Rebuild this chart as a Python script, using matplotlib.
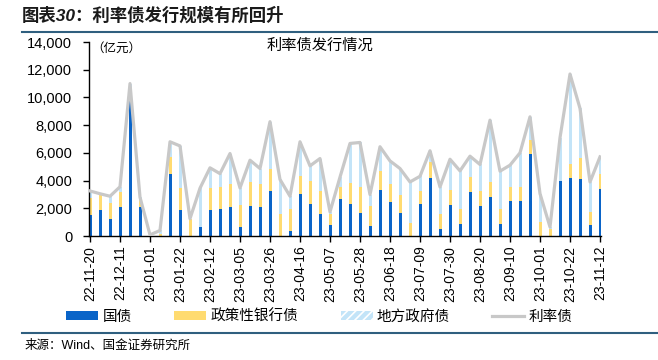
import matplotlib
matplotlib.use("Agg")
import matplotlib.pyplot as plt
from matplotlib.patches import Patch
from matplotlib.lines import Line2D
from matplotlib.ticker import FuncFormatter
import numpy as np

plt.rcParams['font.family'] = ['Liberation Sans', 'Noto Sans CJK SC']
plt.rcParams['hatch.color'] = 'white'
plt.rcParams['hatch.linewidth'] = 1.2

# 每周发行规模（亿元），22-11-20 至 23-11-12
guozhai = [1500, 1850, 1250, 2100, 9800, 2100, 0, 0, 4450, 1850,
           0, 650, 1850, 1930, 2070, 650, 2170, 2100, 3250, 0,
           340, 3010, 2290, 1590, 770, 2660, 2340, 1660, 700, 3350,
           2460, 1660, 0, 2340, 4190, 480, 2220, 890, 3180, 2150,
           2820, 890, 2530, 2510, 5900, 0, 0, 3990, 4170, 4100,
           770, 3420]
zhengce = [1250, 1100, 1100, 1100, 200, 500, 30, 150, 1250, 1620,
           1250, 0, 1620, 1610, 1660, 1570, 1730, 1640, 1550, 1600,
           1640, 1330, 1660, 1640, 850, 850, 1490, 1880, 1470, 1330,
           1320, 1280, 940, 890, 1160, 1130, 1130, 1090, 1090, 1080,
           1080, 1090, 1010, 1030, 1060, 1010, 530, 0, 1060, 1560,
           960, 1090]
difang = [500, 100, 520, 350, 1000, 200, 50, 250, 1100, 3030,
          0, 2800, 1450, 960, 2220, 1250, 1570, 1130, 3450, 2480,
          890, 2460, 1110, 2360, 120, 740, 2850, 3210, 820, 1760,
          1640, 1930, 2960, 1080, 800, 1930, 2190, 2720, 1490, 1930,
          4460, 2700, 1570, 2460, 1640, 2050, 120, 3100, 6460, 3550,
          2170, 1200]

tick_labels = ['22-11-20', '22-12-11', '23-01-01', '23-01-22', '23-02-12',
               '23-03-05', '23-03-26', '23-04-16', '23-05-07', '23-05-28',
               '23-06-18', '23-07-09', '23-07-30', '23-08-20', '23-09-10',
               '23-10-01', '23-10-22', '23-11-12']

c_guo = '#0A64C8'
c_zheng = '#FFDB70'
c_di = '#C3E4F8'
c_line = '#C8C8C8'

g = np.array(guozhai)
z = np.array(zhengce)
d = np.array(difang)
lilv = g + z + d
x = np.arange(len(g))

fig = plt.figure(figsize=(6.58, 3.6), dpi=100)
ax = fig.add_axes([89 / 658, 1 - 236 / 360, (601 - 89) / 658, (236 - 42) / 360])

ax.bar(x, g, width=0.3, color=c_guo, linewidth=0)
ax.bar(x, z, width=0.3, bottom=g, color=c_zheng, linewidth=0)
ax.bar(x, d, width=0.3, bottom=g + z, color=c_di, linewidth=0)
ax.plot(x, lilv, color=c_line, lw=2.3, zorder=3)

ax.set_xlim(-0.1, 51.1)
ax.set_ylim(0, 14000)
ax.set_yticks(range(0, 14001, 2000))
ax.yaxis.set_major_formatter(FuncFormatter(lambda v, p: f'{int(v):,}'))
ax.set_xticks(x[::3])
ax.set_xticklabels(tick_labels, rotation=90)
for s in ['top', 'right']:
    ax.spines[s].set_visible(False)
for s in ['left', 'bottom']:
    ax.spines[s].set_linewidth(1.0)
ax.tick_params(axis='y', direction='out', length=4, width=1, labelsize=10.5, pad=8)
ax.tick_params(axis='x', direction='out', length=4, width=1, labelsize=10, pad=3)

ax.text(91 / 658, 1 - 48 / 360, '（亿元）', transform=fig.transFigure,
        fontsize=9, ha='left', va='center', family=['Noto Sans CJK SC', 'DejaVu Sans'])
ax.text(320 / 658, 1 - 45 / 360, '利率债发行情况', transform=fig.transFigure,
        fontsize=11, ha='center', va='center', family=['Noto Sans CJK SC', 'DejaVu Sans'])

fig.text(22 / 658, 1 - 15 / 360, '图表30：利率债发行规模有所回升', fontsize=12.5,
         weight='bold', style='italic', ha='left', va='center', color='#1a1a1a')
fig.add_artist(Line2D([22 / 658, 1], [1 - 32 / 360] * 2, color='#2F5F7F', lw=1.5))
fig.add_artist(Line2D([22 / 658, 1], [1 - 333 / 360] * 2, color='#2F5F7F', lw=1.5))

handles = [Patch(facecolor=c_guo, edgecolor='none'),
           Patch(facecolor=c_zheng, edgecolor='none'),
           Patch(facecolor=c_di, edgecolor='white', linewidth=0, hatch='////'),
           Line2D([0], [0], color=c_line, lw=2.3)]
labels = ['国债', '政策性银行债', '地方政府债', '利率债']
fig.legend(handles, labels, loc='center left', bbox_to_anchor=(66 / 658, 1 - 317 / 360),
           ncol=4, frameon=False, handlelength=2.2, handleheight=0.55, handletextpad=0.3,
           columnspacing=2.9, fontsize=10.5, borderaxespad=0, borderpad=0)

fig.text(25 / 658, 1 - 346 / 360, '来源：Wind、国金证券研究所', fontsize=9,
         ha='left', va='center')

fig.savefig('out.png', dpi=100)
